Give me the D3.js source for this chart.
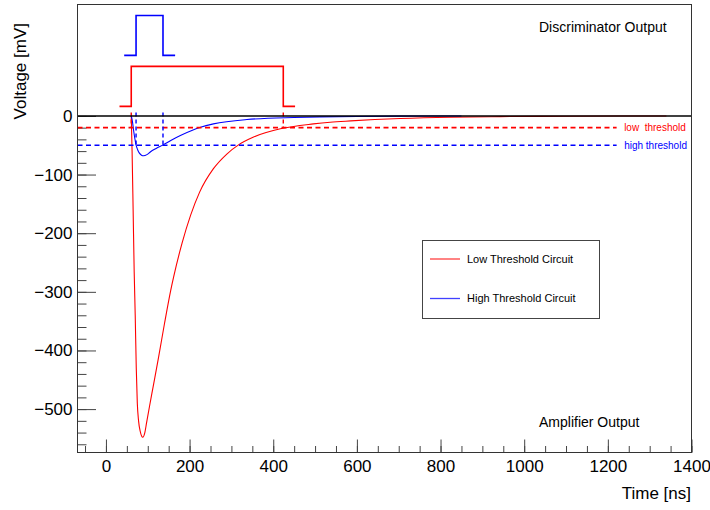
<!DOCTYPE html>
<html><head><meta charset="utf-8">
<script src="https://cdn.jsdelivr.net/npm/d3@7"></script>
<style>
html,body{margin:0;padding:0;background:#fff;}
svg{display:block;font-family:"Liberation Sans",Arial,Helvetica,sans-serif;}
</style>
</head><body>
<svg id="chart" width="710" height="510"></svg>
<script>
// ---- data ----
const lowTime  = [60.5, 62.5, 65, 67.5, 70, 72.5, 75, 78, 82, 88, 93, 97, 104, 112, 126, 140, 155, 162, 182, 224, 257, 289, 317, 353, 417, 496, 536, 585, 704, 824, 943, 1100, 1340];
const lowVolt  = [0, -60, -160, -265, -340, -430, -490, -520, -538, -548, -540, -524, -496, -465, -411, -354, -297, -274, -217, -130, -90, -65, -49.4, -36, -22, -13.6, -10.7, -8.5, -4.5, -2.2, -1.2, -0.5, -0.1];
const highTime = [60.5, 63, 66, 68.5, 70, 72, 76, 80, 85, 90, 98, 106, 120, 136.4, 155, 178, 226, 257, 337, 449, 513, 600, 700, 850];
const highVolt = [0, -8, -24, -36, -42, -49.4, -58, -63.5, -67, -68, -66, -61.5, -55.5, -49.4, -41.8, -33.4, -19.3, -13.6, -6.2, -2.7, -1.7, -0.9, -0.4, -0.1];

const lowThreshold = -20;
const highThreshold = -50;
const lowCross  = [60.5, 424];
const highCross = [72, 136.4];

const lowDiscTime   = [32.4, 60.5, 60.5, 424, 424, 452.2];
const lowDiscLevel  = [16.3, 16.3, 84.5, 84.5, 16.3, 16.3];
const highDiscTime  = [43.6, 72, 72, 136.4, 136.4, 165.4];
const highDiscLevel = [103.2, 103.2, 171.3, 171.3, 103.2, 103.2];

const xMajorTicks = [0, 200, 400, 600, 800, 1000, 1200, 1400];
const xMinorTicks = d3.range(-50, 1401, 50);
const yMajorTicks = [0, -100, -200, -300, -400, -500];
const yMinorTicks = d3.range(0, -561, -20);

const seriesNames = ["Low Threshold Circuit", "High Threshold Circuit"];
const thresholdNames = ["low  threshold", "high threshold"];
const lowColor = "#ff0000", highColor = "#0000ff";

// ---- scales ----
const svg = d3.select("#chart");
const L = 77.5, R = 691.5, T = 4.5, B = 452.5;
const x = d3.scaleLinear().domain([-68, 1400]).range([L, R]);
const y = d3.scaleLinear().domain([-574, 190]).range([B, T]);
const font = "Liberation Sans, Arial, Helvetica, sans-serif";

// ---- axes ----
const gx = svg.append("g").attr("transform", `translate(0,${B})`);
gx.call(d3.axisBottom(x).tickValues(xMinorTicks).tickSize(-6.5).tickFormat(""));
gx.selectAll(".tick line").attr("stroke", "#444");
const gx2 = svg.append("g").attr("transform", `translate(0,${B})`);
gx2.call(d3.axisBottom(x).tickValues(xMajorTicks).tickSize(-13).tickPadding(7.5).tickFormat(d3.format("d")));
gx2.selectAll(".tick line").attr("stroke", "#444");
gx2.selectAll("text").attr("font-size", 17).attr("font-family", font).attr("fill", "#000");
[gx, gx2].forEach(g => g.select(".domain").remove());

const gy = svg.append("g").attr("transform", `translate(${L},0)`);
gy.call(d3.axisLeft(y).tickValues(yMinorTicks).tickSize(-9).tickFormat(""));
gy.selectAll(".tick line").attr("stroke", "#444");
const gy2 = svg.append("g").attr("transform", `translate(${L},0)`);
gy2.call(d3.axisLeft(y).tickValues(yMajorTicks).tickSize(-18.5).tickPadding(5)
  .tickFormat(d => d < 0 ? "\u2212" + Math.abs(d) : String(d)));
gy2.selectAll(".tick line").attr("stroke", "#444");
gy2.selectAll("text").attr("font-size", 17).attr("font-family", font).attr("fill", "#000");
[gy, gy2].forEach(g => g.select(".domain").remove());

// ---- curves ----
const line = d3.line().x(d => x(d[0])).y(d => y(d[1])).curve(d3.curveMonotoneX);
const stepLine = d3.line().x(d => x(d[0])).y(d => y(d[1]));
const lowPts = lowTime.map((t, i) => [t, lowVolt[i]]);
const highPts = highTime.map((t, i) => [t, highVolt[i]]);

svg.append("path").attr("d", line(lowPts)).attr("fill", "none").attr("stroke", lowColor).attr("stroke-width", 1.1);
svg.append("path").attr("d", line(highPts)).attr("fill", "none").attr("stroke", highColor).attr("stroke-width", 1.1);

// discriminator pulses
svg.append("path").attr("d", stepLine(lowDiscTime.map((t, i) => [t, lowDiscLevel[i]])))
  .attr("fill", "none").attr("stroke", lowColor).attr("stroke-width", 1.6);
svg.append("path").attr("d", stepLine(highDiscTime.map((t, i) => [t, highDiscLevel[i]])))
  .attr("fill", "none").attr("stroke", highColor).attr("stroke-width", 1.6);

// threshold lines
const thrEnd = 1221;
[[lowThreshold, lowColor, thresholdNames[0]], [highThreshold, highColor, thresholdNames[1]]].forEach(([v, c, name]) => {
  svg.append("line").attr("x1", x(-68)).attr("x2", x(thrEnd)).attr("y1", y(v)).attr("y2", y(v))
    .attr("stroke", c).attr("stroke-width", 1.6).attr("stroke-dasharray", "5,3.5");
  svg.append("text").attr("x", x(thrEnd) + 7.5).attr("y", y(v)).attr("dy", "0.35em")
    .attr("font-size", 10).attr("font-family", font).attr("fill", c)
    .style("white-space", "pre").attr("xml:space", "preserve").text(name);
});

// vertical crossing markers
lowCross.forEach(t => svg.append("line").attr("x1", x(t)).attr("x2", x(t)).attr("y1", y(6)).attr("y2", y(lowThreshold))
  .attr("stroke", lowColor).attr("stroke-width", 1.4).attr("stroke-dasharray", "4,3"));
highCross.forEach(t => svg.append("line").attr("x1", x(t)).attr("x2", x(t)).attr("y1", y(6)).attr("y2", y(highThreshold))
  .attr("stroke", highColor).attr("stroke-width", 1.4).attr("stroke-dasharray", "4,3"));

// zero line
svg.append("line").attr("x1", L).attr("x2", R).attr("y1", y(0)).attr("y2", y(0))
  .attr("stroke", "#000").attr("stroke-width", 1.5);

// frame
svg.append("rect").attr("x", L).attr("y", T).attr("width", R - L).attr("height", B - T)
  .attr("fill", "none").attr("stroke", "#333").attr("stroke-width", 1);

// ---- texts ----
svg.append("text").attr("x", 691).attr("y", 499).attr("text-anchor", "end")
  .attr("font-size", 17).attr("font-family", font).text("Time [ns]");
svg.append("text").attr("transform", "translate(25.5,23) rotate(-90)").attr("text-anchor", "end")
  .attr("font-size", 17).attr("font-family", font).text("Voltage [mV]");
svg.append("text").attr("x", 539).attr("y", 32).attr("font-size", 14).attr("font-family", font).text("Discriminator Output");
svg.append("text").attr("x", 539).attr("y", 427).attr("font-size", 14).attr("font-family", font).text("Amplifier Output");

// ---- legend ----
const lg = svg.append("g");
lg.append("rect").attr("x", 422.5).attr("y", 240.5).attr("width", 177).attr("height", 78)
  .attr("fill", "#fff").attr("stroke", "#444").attr("stroke-width", 1);
[[seriesNames[0], "#ff4040", 259], [seriesNames[1], "#4040ff", 298.5]].forEach(([n, c, yy]) => {
  lg.append("line").attr("x1", 430).attr("x2", 460).attr("y1", yy).attr("y2", yy).attr("stroke", c).attr("stroke-width", 1.3);
  lg.append("text").attr("x", 467).attr("y", yy).attr("dy", "0.35em").attr("font-size", 11).attr("font-family", font).text(n);
});
</script>
</body></html>
